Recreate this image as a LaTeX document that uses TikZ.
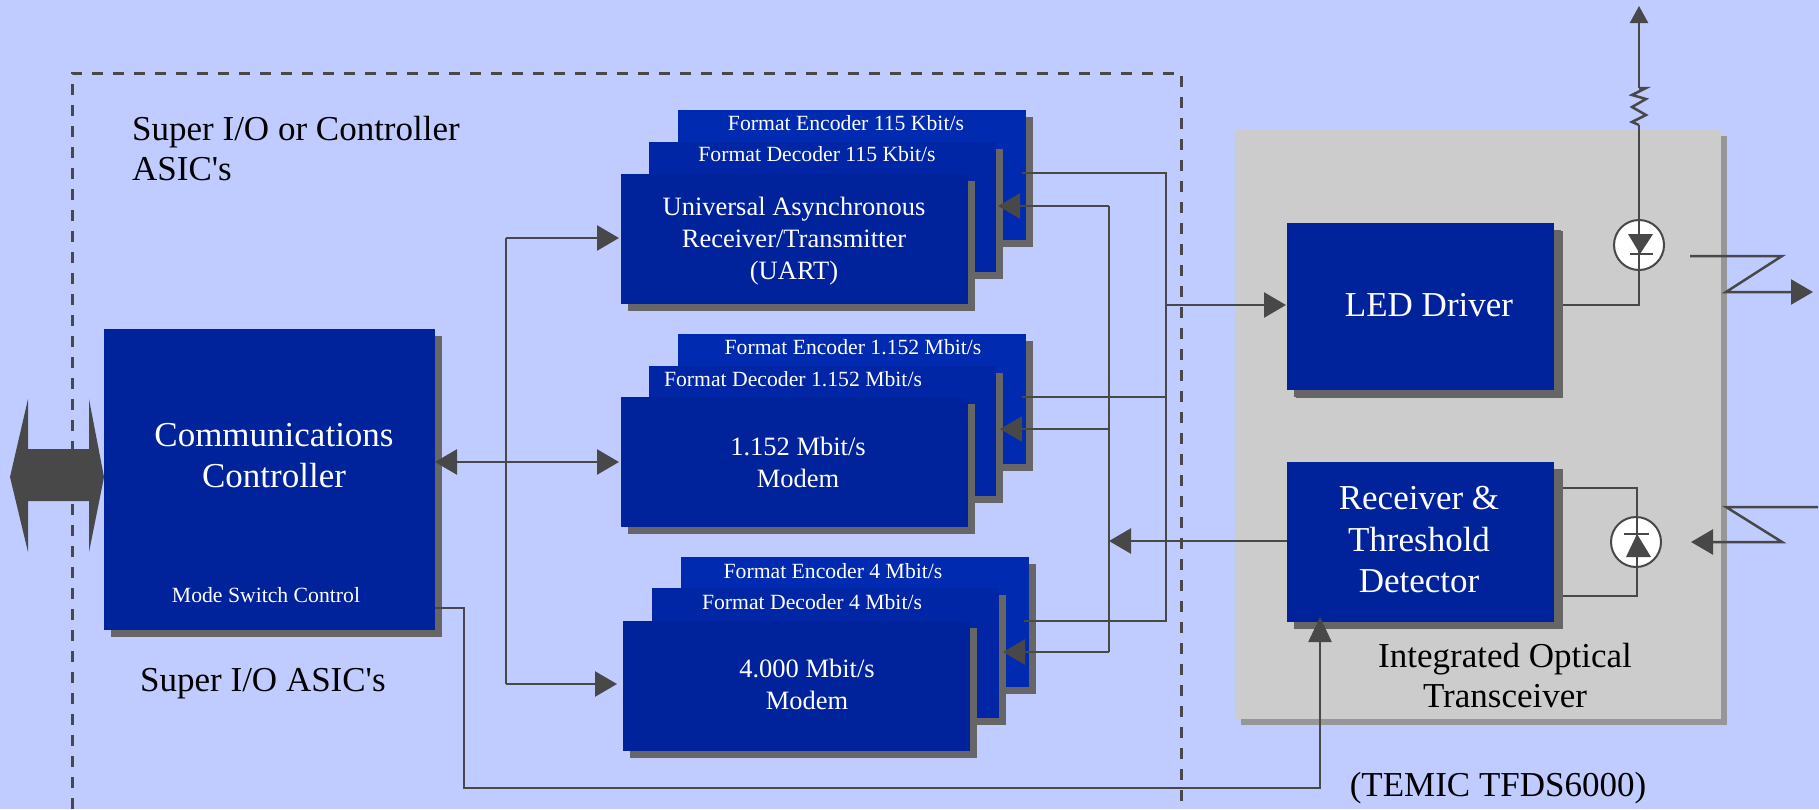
\documentclass[tikz,border=0pt]{standalone}
\usepackage{fontspec}
\setmainfont{Liberation Serif}
\newfontfamily\plainserif{Liberation Serif}
\usetikzlibrary{shadows,arrows.meta,calc}
\definecolor{bgc}{RGB}{192,204,255}
\definecolor{frontc}{RGB}{0,35,156}
\definecolor{midc}{RGB}{0,38,166}
\definecolor{backc}{RGB}{0,42,176}
\definecolor{shadec}{RGB}{102,102,102}
\definecolor{linec}{RGB}{72,72,72}
\definecolor{panelc}{RGB}{204,204,204}
\definecolor{panelsh}{RGB}{150,150,150}
\newcommand{\fsz}[2]{\fontsize{#1}{#2}\selectfont}
\tikzset{
 blk/.style={draw=none,inner sep=0pt,outer sep=0pt,drop shadow={shadow xshift=7pt,shadow yshift=-7pt,fill=shadec,opacity=1}},
 frontbox/.style={blk,fill=frontc,minimum width=347pt,minimum height=130pt},
 midbox/.style={blk,fill=midc,minimum width=347pt,minimum height=130pt},
 backbox/.style={blk,fill=backc,minimum width=348pt,minimum height=130pt},
 txtS/.style={text=white,inner sep=0pt,font=\fsz{21.7}{24}},
 txtM/.style={text=white,inner sep=0pt,align=center,font=\fsz{26.5}{32}},
 txtL/.style={text=white,inner sep=0pt,align=center,font=\fsz{35}{41.5}},
 txtK/.style={text=black,inner sep=0pt,align=left,font=\fsz{35}{40}},
 conn/.style={draw=linec,line width=2.5pt},
 arr/.style={conn,-{Triangle[length=22pt,width=25pt]}},
 arrb/.style={conn,{Triangle[length=22pt,width=25pt]}-{Triangle[length=22pt,width=25pt]}},
 diode/.style={circle,draw=linec,line width=2pt,fill=white,minimum size=50pt,inner sep=0pt},
 solidtri/.style={fill=linec,draw=none},
}
\begin{document}
\begin{tikzpicture}[x=1pt,y=-1pt]
\useasboundingbox (0,0) rectangle (1819,809);
\fill[bgc] (0,0) rectangle (1819,809);
% dashed enclosure
\draw[linec,line width=3pt,dash pattern=on 11pt off 10pt] (72,809) -- (72,73) -- (1181,73) -- (1181,809);
% transceiver panel
\node[draw=none,inner sep=0pt,outer sep=0pt,fill=panelc,minimum width=486pt,minimum height=589pt,
  drop shadow={shadow xshift=6pt,shadow yshift=-6pt,fill=panelsh,opacity=1}] (panel) at (1478,424.5) {};
% communications controller
\node[blk,fill=frontc,minimum width=331pt,minimum height=301pt] (comm) at (269.5,479.5) {};
\node[txtL] (commt) at (274,455.5) {Communications\\Controller};
\node[txtS] (mode) at (266,595.5) {Mode Switch Control};
% group 1
\node[backbox] (enca) at (852,175) {};
\node[midbox] (deca) at (822.5,207) {};
\node[frontbox] (uart) at (794.5,239) {};
\node[txtS] (encat) at (846,123.5) {Format Encoder 115 Kbit/s};
\node[txtS] (decat) at (817,154.5) {Format Decoder 115 Kbit/s};
\node[txtM] (uartt) at (794,241) {Universal Asynchronous\\Receiver/Transmitter\\(UART)};
% group 2
\node[backbox] (encb) at (852,398.5) {};
\node[midbox] (decb) at (822.5,431) {};
\node[frontbox] (modb) at (794.5,462) {};
\node[txtS] (encbt) at (853,347.5) {Format Encoder 1.152 Mbit/s};
\node[txtS] (decbt) at (793,379.5) {Format Decoder 1.152 Mbit/s};
\node[txtM] (modbt) at (798,462) {1.152 Mbit/s\\Modem};
% group 3
\node[backbox] (encc) at (854.5,622) {};
\node[midbox] (decc) at (825,653) {};
\node[frontbox] (modc) at (796.5,686) {};
\node[txtS] (encct) at (833,571.5) {Format Encoder 4 Mbit/s};
\node[txtS] (decct) at (812,602.5) {Format Decoder 4 Mbit/s};
\node[txtM] (modct) at (807,684) {4.000 Mbit/s\\Modem};
% LED driver, receiver
\node[blk,fill=frontc,minimum width=267pt,minimum height=167pt,drop shadow={shadow xshift=9pt,shadow yshift=-8pt,fill=shadec,opacity=1}] (led) at (1420.5,306.5) {};
\node[txtL] (ledt) at (1429,305) {LED Driver};
\node[blk,fill=frontc,minimum width=267pt,minimum height=160pt,drop shadow={shadow xshift=9pt,shadow yshift=-7pt,fill=shadec,opacity=1}] (rcv) at (1420.5,542) {};
\node[txtL] (rcvt) at (1419,540) {Receiver \&\\Threshold\\Detector};
% free labels
\node[txtK,anchor=west] (lab1) at (132,149) {Super I/O or Controller\\{\plainserif ASIC's}};
\node[txtK,anchor=west] (lab2) at (140,684) {{\plainserif Super I/O ASIC's}};
\node[txtK,align=center] (lab3) at (1505,676) {Integrated Optical\\Transceiver};
\node[txtK] (lab4) at (1498,788) {(TEMIC TFDS6000)};
% big double arrow
\fill[linec] (10,477) -- (28,399) -- (28,449) -- (89,449) -- (89,399) -- (104,477) -- (89,552) -- (89,501) -- (28,501) -- (28,552) -- cycle;
% coordinates
\coordinate (cL) at (435,462);
\coordinate (bT) at (506,238);
\coordinate (bM) at (506,462);
\coordinate (bB) at (506,684);
\coordinate (tU) at (619,238);
\coordinate (tM) at (619,462);
\coordinate (tB) at (617,684);
\draw[arrb] (cL) -- (tM);
\draw[conn] (bM) -- (bT);
\draw[arr] (bT) -- (tU);
\draw[conn] (bM) -- (bB);
\draw[arr] (bB) -- (tB);
% mode control
\coordinate (mc0) at (435,608);
\coordinate (mc1) at (464,608);
\coordinate (mc2) at (464,788);
\coordinate (mc3) at (1320,788);
\coordinate (mc4) at (1320,617);
\draw[conn,-{Triangle[length=25pt,width=23pt]},line join=miter] (mc0) -- (mc1) -- (mc2) -- (mc3) -- (mc4);
% tx bus
\coordinate (txa) at (1022,173);
\coordinate (txb) at (1022,397);
\coordinate (txc) at (1024,621);
\coordinate (txTop) at (1166,173);
\coordinate (txBot) at (1166,621);
\coordinate (txLed) at (1166,305);
\coordinate (ledIn) at (1286,305);
\draw[conn] (txa) -- (txTop) -- (txBot) -- (txc);
\draw[conn] (txb) -- (1166,397);
\draw[arr] (txLed) -- (ledIn);
% rx bus
\coordinate (rxTop) at (1109,206);
\coordinate (rxBot) at (1109,652);
\coordinate (rxa) at (998,206);
\coordinate (rxb) at (1000,429);
\coordinate (rxc) at (1003,652);
\coordinate (rcvOut) at (1287,541);
\coordinate (rxIn) at (1109,541);
\draw[conn] (rxTop) -- (rxBot);
\draw[arr] (rxTop) -- (rxa);
\draw[arr] (1109,429) -- (rxb);
\draw[arr] (rxBot) -- (rxc);
\draw[arr] (rcvOut) -- (rxIn);
% LED output
\node[diode] (ledd) at (1639,245) {};
\coordinate (ld0) at (1563,305);
\coordinate (ld1) at (1639,305);
\coordinate (rb) at (1639,125);
\coordinate (rt) at (1639,88);
\coordinate (vcc) at (1639,6);
\draw[conn] (ld0) -- (ld1) -- (rb);
\draw[conn] (rb) -- (1632,122) -- (1646,115) -- (1632,107) -- (1646,99) -- (1632,95) -- (1646,88) -- (rt);
\draw[conn,-{Triangle[length=17pt,width=18pt]}] (rt) -- (vcc);
\fill[solidtri] (1628,234) -- (1653,234) -- (1640,254) -- cycle;
\draw[conn] (1630,254) -- (1653,254);
% IR out
\coordinate (z1) at (1690,256);
\coordinate (z2) at (1782,256);
\coordinate (z3) at (1726,292);
\coordinate (z4) at (1813,292);
\draw[arr,line join=miter] (z1) -- (z2) -- (z3) -- (z4);
% photodiode
\node[diode] (pd) at (1636,542) {};
\coordinate (p0) at (1563,488);
\coordinate (p1) at (1637,488);
\coordinate (p2) at (1637,596);
\coordinate (p3) at (1563,596);
\draw[conn] (p0) -- (p1) -- (p2) -- (p3);
\fill[solidtri] (1626,557) -- (1651,557) -- (1637,534) -- cycle;
\draw[conn] (1624,534) -- (1649,534);
% IR in
\coordinate (w1) at (1818,507);
\coordinate (w2) at (1726,507);
\coordinate (w3) at (1782,542);
\coordinate (w4) at (1691,542);
\draw[arr,line join=miter] (w1) -- (w2) -- (w3) -- (w4);
\end{tikzpicture}
\end{document}
